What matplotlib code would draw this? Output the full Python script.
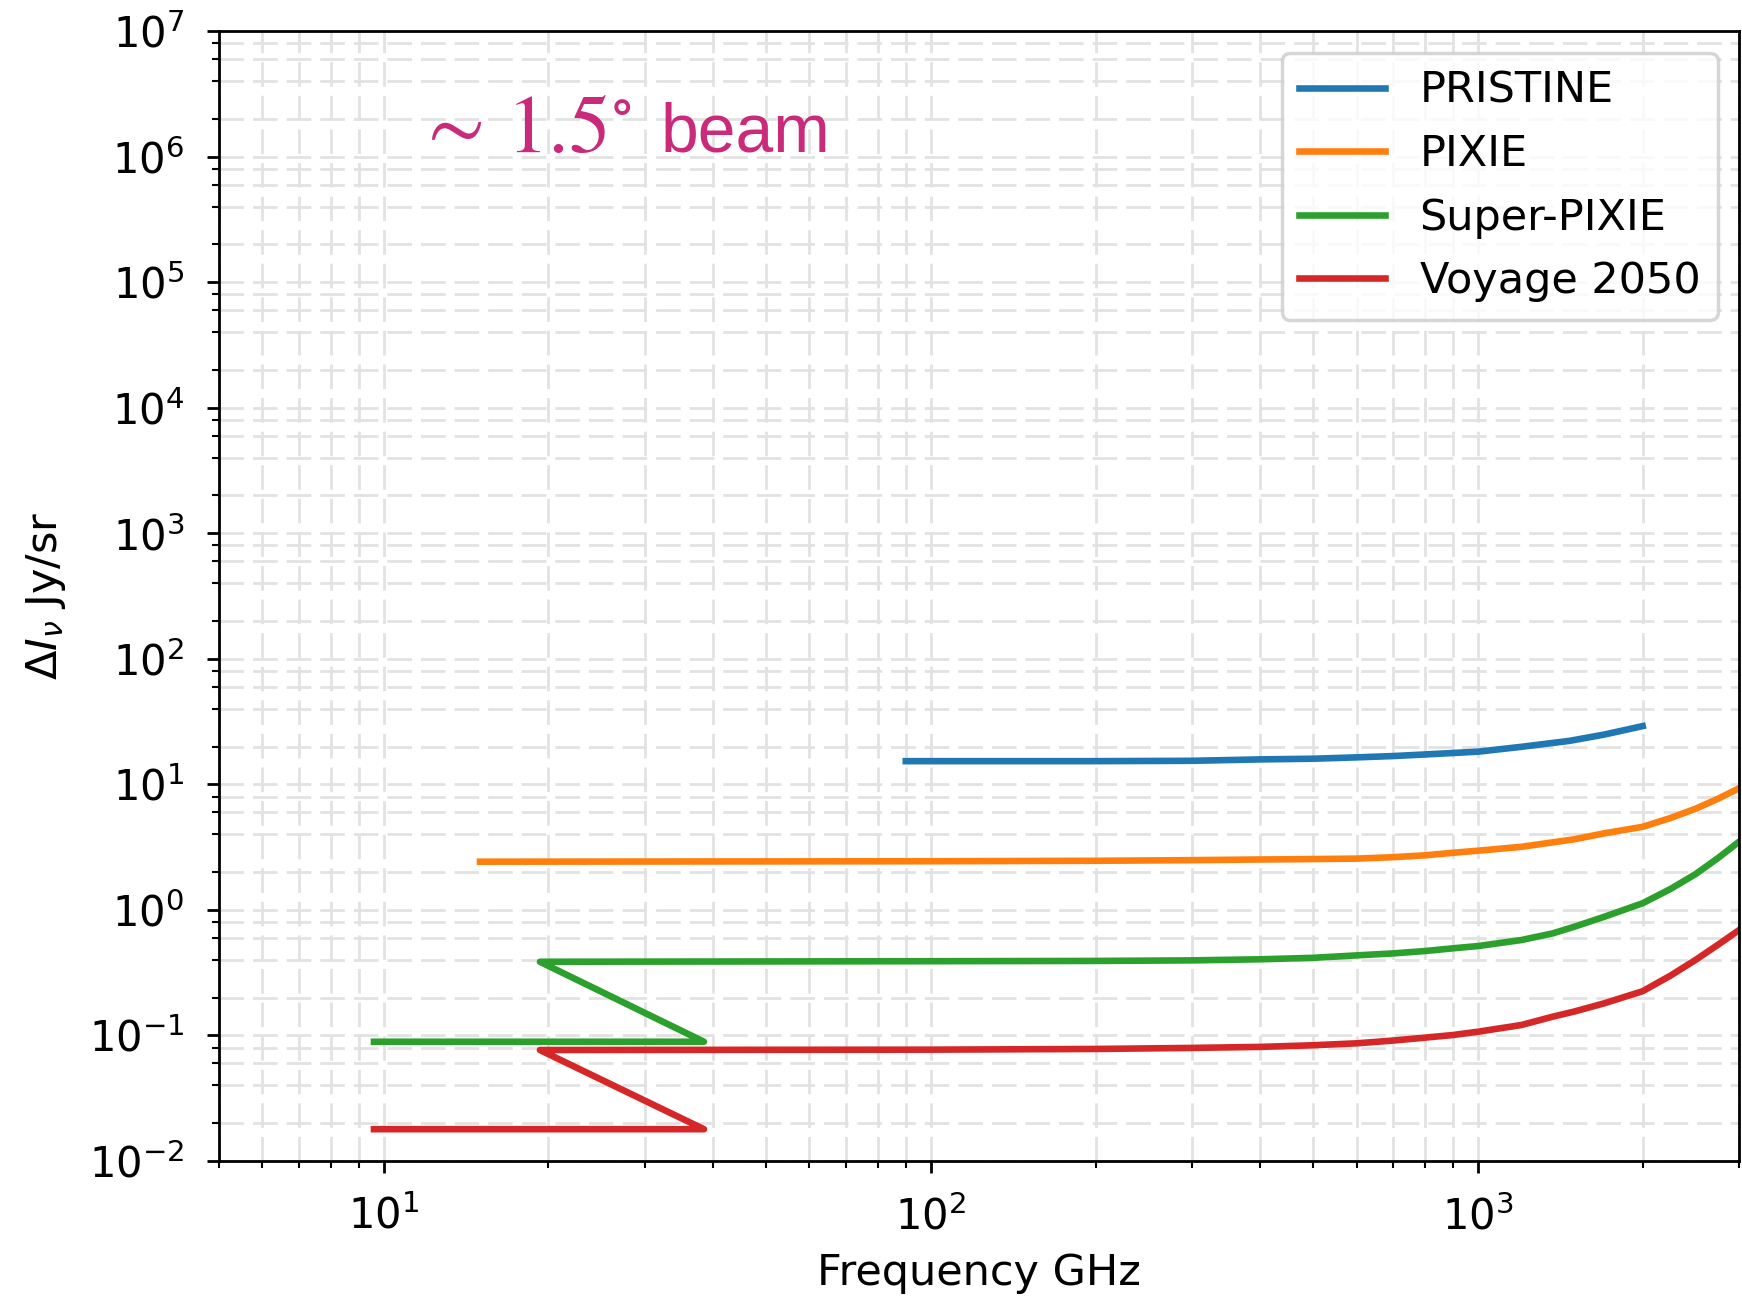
import matplotlib
matplotlib.use("Agg")
import matplotlib.pyplot as plt
from matplotlib.ticker import LogLocator, NullFormatter

plt.rcParams["font.size"] = 12

# Sensitivity curves (frequency in GHz, Delta I_nu in Jy/sr)
pristine_freq = [90, 150, 200, 300, 400, 500, 600, 700, 800, 1000, 1200, 1470, 1700, 2000]
pristine_sens = [15.3, 15.3, 15.3, 15.4, 15.8, 16.0, 16.4, 16.8, 17.3, 18.2, 19.9, 22.2, 24.9, 29.1]

pixie_freq = [15, 100, 200, 300, 400, 500, 600, 700, 800, 900, 1000, 1200, 1500, 1700, 2000,
              2250, 2500, 2750, 3000]
pixie_sens = [2.42, 2.44, 2.46, 2.49, 2.52, 2.54, 2.56, 2.63, 2.72, 2.85, 2.96, 3.18, 3.65, 4.07,
              4.59, 5.4, 6.4, 7.7, 9.3]

superpixie_freq = [9.6, 38.5, 19.3, 100, 200, 300, 400, 500, 600, 700, 800, 900, 1000, 1200,
                   1370, 1500, 1700, 2000, 2250, 2500, 2750, 3000]
superpixie_sens = [0.089, 0.089, 0.386, 0.39, 0.392, 0.396, 0.404, 0.415, 0.434, 0.45, 0.47,
                   0.494, 0.515, 0.575, 0.65, 0.734, 0.88, 1.13, 1.47, 1.93, 2.6, 3.49]

voyage_freq = [9.6, 38.5, 19.3, 100, 200, 300, 400, 500, 600, 700, 800, 900, 1000, 1200,
               1370, 1500, 1700, 2000, 2250, 2500, 2750, 3000]
voyage_sens = [0.0179, 0.0179, 0.0765, 0.077, 0.078, 0.0795, 0.081, 0.0835, 0.0865, 0.091,
               0.096, 0.1007, 0.107, 0.121, 0.141, 0.155, 0.18, 0.225, 0.3, 0.40, 0.53, 0.69]

series_labels = ["PRISTINE", "PIXIE", "Super-PIXIE", "Voyage 2050"]

fig = plt.figure(figsize=(1742 / 250, 1297 / 250), dpi=250)
ax = fig.add_axes([0.1257, 0.1049, 0.8726, 0.8711])

lw = 1.9
ax.plot(pristine_freq, pristine_sens, color="C0", lw=lw, label=series_labels[0])
ax.plot(pixie_freq, pixie_sens, color="C1", lw=lw, label=series_labels[1])
ax.plot(superpixie_freq, superpixie_sens, color="C2", lw=lw, label=series_labels[2])
ax.plot(voyage_freq, voyage_sens, color="C3", lw=lw, label=series_labels[3])

ax.set_xscale("log")
ax.set_yscale("log")
ax.set_xlim(5, 3000)
ax.set_ylim(1e-2, 1e7)

ax.yaxis.set_major_locator(LogLocator(base=10, numticks=20))
ax.yaxis.set_minor_locator(LogLocator(base=10, subs=(2, 4, 6, 8), numticks=20))
ax.yaxis.set_minor_formatter(NullFormatter())
ax.xaxis.set_minor_locator(LogLocator(base=10, subs=tuple(range(2, 10)), numticks=20))
ax.xaxis.set_minor_formatter(NullFormatter())
ax.tick_params(axis="both", which="major", pad=6.5)

ax.grid(True, which="both", color="#e2e2e2", linewidth=0.8,
        linestyle=(0, (8.85, 3.24)))

ax.set_xlabel("Frequency GHz", fontsize=12.4)
ax.set_ylabel(r"$\mathit{\Delta} I_{\nu}$ Jy/sr", fontsize=12.4, labelpad=6)

ax.legend(loc="upper right", fontsize=12.4)

ax.text(11.4, 1.09e6, r"$\sim\,1.5^{\circ}$", color="#c92a7a", fontsize=24,
        math_fontfamily="stix", va="baseline", ha="left")
ax.text(32.1, 1.09e6, "beam", color="#c92a7a", fontsize=19.5,
        family="Liberation Sans", va="baseline", ha="left")

fig.savefig("out.png", dpi=250)
